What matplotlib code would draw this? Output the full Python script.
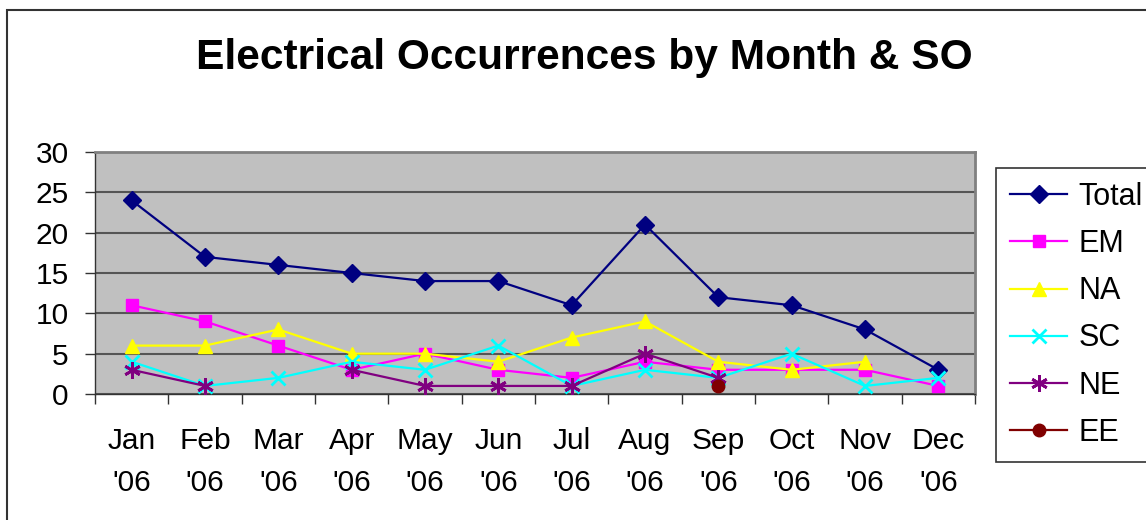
import numpy as np
import matplotlib
matplotlib.use("Agg")
import matplotlib.pyplot as plt
from matplotlib.patches import Rectangle

plt.rcParams['font.family'] = ['Liberation Sans', 'DejaVu Sans']

months = ["Jan\n'06", "Feb\n'06", "Mar\n'06", "Apr\n'06", "May\n'06", "Jun\n'06",
          "Jul\n'06", "Aug\n'06", "Sep\n'06", "Oct\n'06", "Nov\n'06", "Dec\n'06"]
nan = np.nan
total = [24, 17, 16, 15, 14, 14, 11, 21, 12, 11, 8, 3]
em = [11, 9, 6, 3, 5, 3, 2, 4, 3, 3, 3, 1]
na = [6, 6, 8, 5, 5, 4, 7, 9, 4, 3, 4, nan]
sc = [4, 1, 2, 4, 3, 6, 1, 3, 2, 5, 1, 2]
ne = [3, 1, nan, 3, 1, 1, 1, 5, 2, nan, nan, nan]
ee = [nan, nan, nan, nan, nan, nan, nan, nan, 1, nan, nan, nan]

series = [
    ("Total", total, "#000080", "D", 9),
    ("EM", em, "#FF00FF", "s", 9),
    ("NA", na, "#FFFF00", "^", 10),
    ("SC", sc, "#00FFFF", "x", 10),
    ("NE", ne, "#800080", (6, 2, 0), 12),
    ("EE", ee, "#800000", "o", 9),
]

W, H = 1146, 520
fig = plt.figure(figsize=(W / 100, H / 100), dpi=100)

# outer chart border (runs off the right/bottom edge)
fig.patches.append(Rectangle((7 / W, -0.1), 1.2, 1 - 10 / H + 0.1, transform=fig.transFigure,
                             fill=False, edgecolor='#333333', linewidth=1.5))

L, R, T, B = 95, 975, 152, 394
ax = fig.add_axes([L / W, 1 - B / H, (R - L) / W, (B - T) / H])
ax.set_facecolor('#C0C0C0')

x = np.arange(len(months))
for name, vals, col, mk, ms in series:
    mew = 2 if mk in ("x", (6, 2, 0)) else 1
    ax.plot(x, vals, color=col, marker=mk, markersize=ms, linewidth=1.6,
            markeredgecolor=col, markerfacecolor=col, markeredgewidth=mew,
            label=name, clip_on=False, zorder=3)

ax.set_xlim(-0.5, 11.5)
ax.set_ylim(0, 30)
ax.set_yticks(range(0, 31, 5))
ax.grid(axis='y', color='#555555', linewidth=1.5, zorder=1)
ax.set_axisbelow(True)

ax.set_xticks(x)
ax.set_xticklabels(months, linespacing=1.6)
ax.set_xticks(np.arange(-0.5, 12, 1), minor=True)
ax.tick_params(axis='x', which='major', length=0, pad=24, labelsize=21.5)
ax.tick_params(axis='x', which='minor', length=7, width=1, color='#333333')
ax.tick_params(axis='y', length=7, width=1, color='#333333', pad=12, labelsize=21.5)

for side in ['top', 'right']:
    ax.spines[side].set_color('#808080')
    ax.spines[side].set_linewidth(2)
for side in ['left', 'bottom']:
    ax.spines[side].set_color('#333333')
    ax.spines[side].set_linewidth(1)

fig.text(584 / W, 1 - 58 / H, "Electrical Occurrences by Month & SO",
         ha='center', va='center', fontsize=30.6, fontweight='bold')

leg = fig.legend(loc='upper left', bbox_to_anchor=(996 / W, 1 - 168 / H),
                 fontsize=22, frameon=True, fancybox=False, edgecolor='black',
                 handlelength=1.87, labelspacing=0.56, borderaxespad=0,
                 borderpad=0.46, handletextpad=0.36)
leg.get_frame().set_linewidth(1.2)

fig.savefig("out.png", dpi=100)
